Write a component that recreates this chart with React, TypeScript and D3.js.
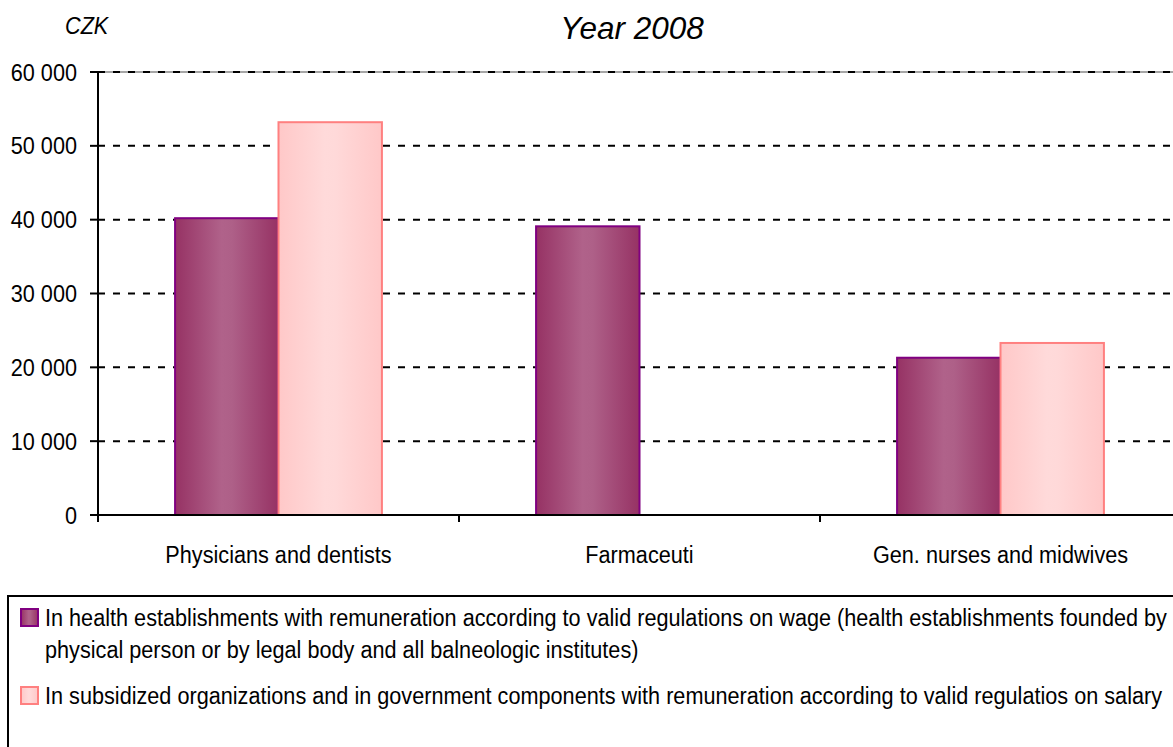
import React from "react";
import * as d3 from "d3";

// data
const categories = ["Physicians and dentists", "Farmaceuti", "Gen. nurses and midwives"];
const seriesNames = ["wage", "salary"];
const wageValues = [40200, 39100, 21300];
const salaryValues: (number | null)[] = [53200, null, 23300];
const yTicks = [0, 10000, 20000, 30000, 40000, 50000, 60000];
const legendLines = [
  [
    "In health establishments with remuneration according to valid regulations on wage (health establishments founded by",
    "physical person or by legal body and all balneologic institutes)",
  ],
  ["In subsidized organizations and in government components with remuneration according to valid regulatios on salary"],
];

const W = 1173;
const H = 747;
const margin = { top: 72, left: 98, bottom: 515, right: 1181 };
const font = "'Liberation Sans', Arial, sans-serif";
const FS = 23.3; // base font size
const SX = 0.93; // the source text is a bit narrow

// text squeezed horizontally, like the source
const Label: React.FC<{
  x: number;
  y: number;
  anchor?: "start" | "middle" | "end";
  size?: number;
  sx?: number;
  italic?: boolean;
  dy?: string;
  children: React.ReactNode;
}> = ({ x, y, anchor = "start", size = FS, sx = SX, italic = false, dy, children }) => (
  <text
    transform={`translate(${x},${y}) scale(${sx},1)`}
    textAnchor={anchor}
    fontSize={size}
    fontStyle={italic ? "italic" : "normal"}
    dy={dy}
    fill="#000"
  >
    {children}
  </text>
);

const App: React.FC = () => {
  const x0 = d3
    .scaleBand<string>()
    .domain(categories)
    .range([margin.left, margin.right])
    .paddingInner(0.427)
    .paddingOuter(0.2135);

  const x1 = d3.scaleBand<string>().domain(seriesNames).range([0, x0.bandwidth()]);

  const y = d3.scaleLinear().domain([0, 60000]).range([margin.bottom, margin.top]);

  const fmt = (v: number) => d3.format(",")(v).replace(/,/g, " ");

  const styles = [
    { fill: "url(#gradWage)", stroke: "#800080" },
    { fill: "url(#gradSalary)", stroke: "#ff8080" },
  ];

  const series = [wageValues, salaryValues];

  // category boundary ticks
  const boundaries = categories.map((c) => (x0(c) as number) - x0.step() * x0.paddingOuter());

  return (
    <div style={{ position: "absolute", left: 0, top: 0, width: W, height: H, overflow: "hidden", background: "#fff" }}>
      <svg width={W} height={H} fontFamily={font}>
        <defs>
          <linearGradient id="gradWage" x1="0" y1="0" x2="1" y2="0">
            <stop offset="0%" stopColor="#963264" />
            <stop offset="45%" stopColor="#b0628a" />
            <stop offset="55%" stopColor="#ae6088" />
            <stop offset="100%" stopColor="#963264" />
          </linearGradient>
          <linearGradient id="gradSalary" x1="0" y1="0" x2="1" y2="0">
            <stop offset="0%" stopColor="#ffc8c8" />
            <stop offset="45%" stopColor="#ffdada" />
            <stop offset="55%" stopColor="#ffd9d9" />
            <stop offset="100%" stopColor="#ffc8c8" />
          </linearGradient>
        </defs>

        {/* Title */}
        <Label x={632} y={38.5} anchor="middle" size={31.5} sx={1} italic>
          Year 2008
        </Label>
        <Label x={65} y={33.5} italic>
          CZK
        </Label>

        {/* top border */}
        <line x1={margin.left} x2={W} y1={y(60000)} y2={y(60000)} stroke="#888" strokeWidth={1.5} />

        {/* Gridlines */}
        {yTicks.filter((t) => t > 0).map((t) => (
          <line
            key={t}
            x1={margin.left}
            x2={W}
            y1={y(t)}
            y2={y(t)}
            stroke="#000"
            strokeWidth={2}
            strokeDasharray="7,8"
          />
        ))}

        {/* Bars */}
        {series.map((vals, si) =>
          categories.map((c, ci) => {
            const v = vals[ci];
            if (v == null) return null;
            const bx = (x0(c) as number) + (x1(seriesNames[si]) as number);
            return (
              <rect
                key={`${si}-${ci}`}
                x={bx}
                y={y(v)}
                width={x1.bandwidth()}
                height={y(0) - y(v)}
                fill={styles[si].fill}
                stroke={styles[si].stroke}
                strokeWidth={2}
              />
            );
          })
        )}

        {/* Y axis */}
        <line x1={margin.left} x2={margin.left} y1={y(60000)} y2={y(0) + 7} stroke="#000" strokeWidth={2} />
        {yTicks.map((t) => (
          <g key={t}>
            <line x1={margin.left - 8} x2={margin.left} y1={y(t)} y2={y(t)} stroke="#000" strokeWidth={2} />
            <Label x={77} y={y(t)} anchor="end" dy="0.37em">
              {fmt(t)}
            </Label>
          </g>
        ))}

        {/* X axis */}
        <line x1={margin.left - 8} x2={W} y1={y(0)} y2={y(0)} stroke="#000" strokeWidth={2} />
        {boundaries.map((b, i) => (
          <line key={i} x1={b} x2={b} y1={y(0)} y2={y(0) + 7} stroke="#000" strokeWidth={2} />
        ))}
        {categories.map((c) => (
          <Label key={c} x={(x0(c) as number) + x0.bandwidth() / 2} y={563} anchor="middle">
            {c}
          </Label>
        ))}

        {/* Legend */}
        <rect x={8} y={596} width={W + 20} height={H} fill="#fff" stroke="#000" strokeWidth={2} />
        {legendLines.map((lines, i) => {
          const top = i === 0 ? 609 : 687;
          return (
            <g key={i}>
              <rect
                x={21}
                y={top}
                width={17}
                height={17}
                fill={styles[i].fill}
                stroke={styles[i].stroke}
                strokeWidth={2}
              />
              {lines.map((ln, li) => (
                <Label key={li} x={45} y={top + 17 + li * 32}>
                  {ln}
                </Label>
              ))}
            </g>
          );
        })}
      </svg>
    </div>
  );
};

export default App;
